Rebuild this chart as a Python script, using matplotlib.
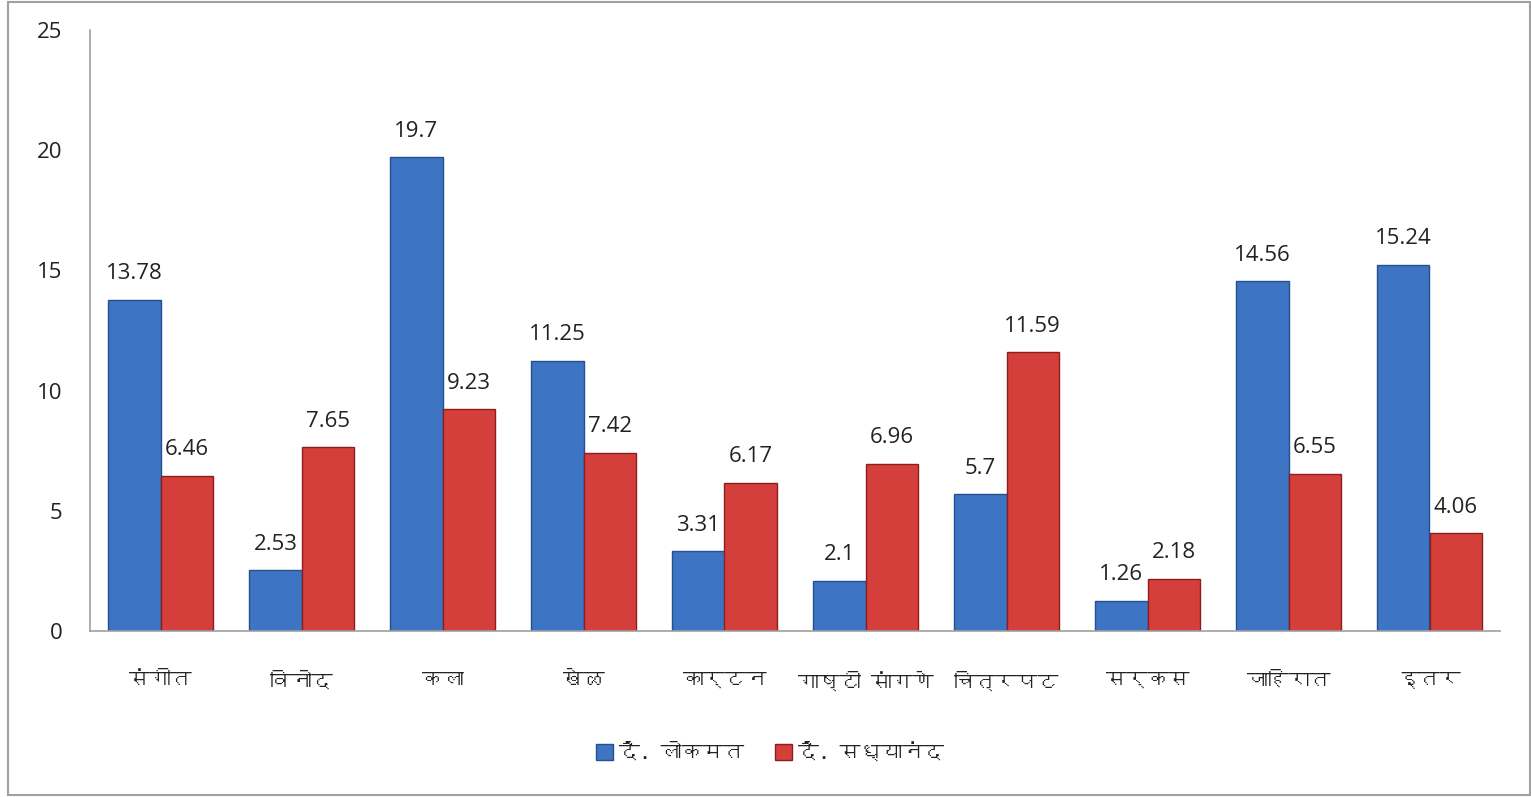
import matplotlib
matplotlib.use("Agg")
import matplotlib.pyplot as plt
import numpy as np
from matplotlib import font_manager
from matplotlib.patches import Rectangle

categories = ["संगीत", "विनोद", "कला", "खेळ", "कार्टन", "गाष्टी सांगणे", "चित्रपट", "सर्कस", "जाहिरात", "इतर"]
lokmat = [13.78, 2.53, 19.7, 11.25, 3.31, 2.1, 5.7, 1.26, 14.56, 15.24]
sadhyanand = [6.46, 7.65, 9.23, 7.42, 6.17, 6.96, 11.59, 2.18, 6.55, 4.06]
series_names = ["दै. लोकमत", "दै. सध्यानंद"]
yticks = [0, 5, 10, 15, 20, 25]

# find a font covering Devanagari
deva = None
try:
    from fontTools.ttLib import TTFont
    for f in font_manager.fontManager.ttflist:
        try:
            kw = {"fontNumber": 0} if f.fname.lower().endswith(".ttc") else {}
            tt = TTFont(f.fname, lazy=True, **kw)
            cmap = tt.getBestCmap()
            if cmap and 0x0915 in cmap:
                deva = f.name
                break
        except Exception:
            pass
except Exception:
    pass
fam = ([deva] if deva else []) + ["DejaVu Sans"]
num_fam = ["Open Sans", "DejaVu Sans"]

fig = plt.figure(figsize=(15.31, 7.97), dpi=100)
fig.patches.append(Rectangle((8/1531, 0.002), 1 - 9/1531, 0.996, transform=fig.transFigure,
                             fill=False, edgecolor="#a0a0a0", linewidth=1.5))
ax = fig.add_axes([90/1531, 1 - 631/797, (1500 - 90)/1531, 601/797])

x = np.arange(len(categories))
w = 0.37
blue = "#3d74c4"
red = "#d43f3c"
b1 = ax.bar(x - w/2, lokmat, w, color=blue, edgecolor="#24508e", linewidth=1.0, label=series_names[0])
b2 = ax.bar(x + w/2, sadhyanand, w, color=red, edgecolor="#8e1e1e", linewidth=1.0, label=series_names[1])

for bars, vals in ((b1, lokmat), (b2, sadhyanand)):
    for r, v in zip(bars, vals):
        ax.annotate(f"{v:g}", (r.get_x() + r.get_width()/2, r.get_height()),
                    xytext=(0, 11), textcoords="offset points", ha="center", va="bottom",
                    fontsize=16, color="#222222", family=num_fam)

ax.set_xlim(-0.5, len(categories) - 0.5)
ax.set_ylim(0, 25)
ax.set_yticks(yticks)
ax.set_yticklabels([str(t) for t in yticks], fontsize=16, color="#222222", family=num_fam)
ax.set_xticks(x)
ax.set_xticklabels(categories, fontsize=15, color="#222222", family=fam)
ax.tick_params(axis="both", length=0)
ax.tick_params(axis="x", pad=29)
ax.tick_params(axis="y", pad=20)
for s in ("top", "right"):
    ax.spines[s].set_visible(False)
for s in ("left", "bottom"):
    ax.spines[s].set_color("#a0a0a0")
    ax.spines[s].set_linewidth(1.2)

leg = fig.legend(handles=[b1, b2], labels=series_names, loc="center", bbox_to_anchor=(770/1531, 1 - 752/797),
                 ncol=2, frameon=False, prop={"family": fam, "size": 15}, handlelength=0.8,
                 handleheight=0.8, handletextpad=0.3, columnspacing=1.5)
for t in leg.get_texts():
    t.set_color("#222222")

fig.savefig("out.png", dpi=100)
